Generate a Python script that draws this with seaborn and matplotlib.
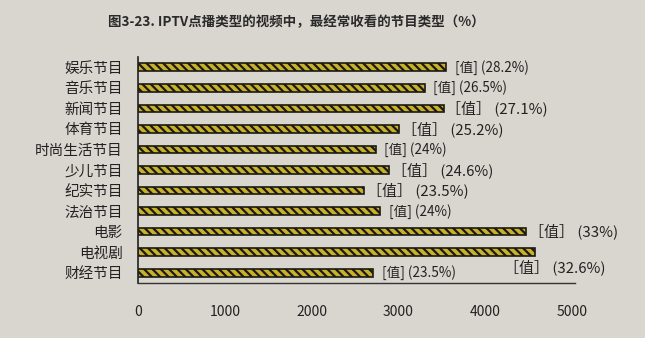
import matplotlib
matplotlib.use("Agg")
import matplotlib.pyplot as plt
import seaborn as sns
import pandas as pd

categories = ["娱乐节目", "音乐节目", "新闻节目", "体育节目", "时尚生活节目", "少儿节目",
              "纪实节目", "法治节目", "电影", "电视剧", "财经节目"]
values = [3550, 3300, 3520, 3010, 2740, 2890, 2600, 2790, 4470, 4570, 2710]
percents = ["28.2%", "26.5%", "27.1%", "25.2%", "24%", "24.6%", "23.5%", "24%", "33%", "32.6%", "23.5%"]
wide_bracket = [False, False, True, True, False, True, True, False, True, True, False]
x_ticks = [0, 1000, 2000, 3000, 4000, 5000]
title = "图3-23. IPTV点播类型的视频中，最经常收看的节目类型（%）"

sns.set_theme(style="white")
plt.rcParams["font.family"] = ["Noto Sans CJK SC", "DejaVu Sans"]
plt.rcParams["hatch.color"] = "#1a1a10"
plt.rcParams["hatch.linewidth"] = 1.6

bg = "#d9d5cf"
fig = plt.figure(figsize=(6.45, 3.38), dpi=100, facecolor=bg)
ax = fig.add_axes([0.214, 0.163, 0.677, 0.668], facecolor=bg)

df = pd.DataFrame({"cat": categories, "val": values})
sns.barplot(data=df, y="cat", x="val", orient="h", color="#c8b02c", saturation=1,
            width=0.38, edgecolor="#1a1a10", linewidth=1.2, ax=ax)
for p in ax.patches:
    p.set_hatch("\\\\\\\\")

ax.set_xlim(0, 5030)
ax.set_xticks(x_ticks)
ax.set_xticklabels([str(t) for t in x_ticks], fontsize=10, color="#222222")
ax.tick_params(axis="x", length=0, pad=16)
ax.tick_params(axis="y", length=0, pad=11, labelsize=10.5, labelcolor="#222222")
ax.set_xlabel("")
ax.set_ylabel("")
for s in ["top", "right"]:
    ax.spines[s].set_visible(False)
ax.spines["left"].set_color("#222222")
ax.spines["bottom"].set_color("#333333")
ax.spines["left"].set_linewidth(1.2)
ax.spines["bottom"].set_linewidth(1.0)

for i, (v, pct, wide) in enumerate(zip(values, percents, wide_bracket)):
    if wide:
        txt = "［值］ (" + pct + ")"
        fs = 10.8
        dx = 2
    else:
        txt = "[值] (" + pct + ")"
        fs = 9.8
        dx = 6
    if categories[i] == "电视剧":
        ax.annotate(txt, xy=(v, i), xytext=(-22, -11), textcoords="offset points",
                    ha="left", va="center", fontsize=fs, color="#222222")
    else:
        ax.annotate(txt, xy=(v, i), xytext=(dx, 0), textcoords="offset points",
                    ha="left", va="center", fontsize=fs, color="#222222")

fig.text(0.167, 0.935, title, fontsize=9.7, fontweight="bold", color="#2a2a2a",
         ha="left", va="center")

fig.savefig("out.png", dpi=100, facecolor=bg)
